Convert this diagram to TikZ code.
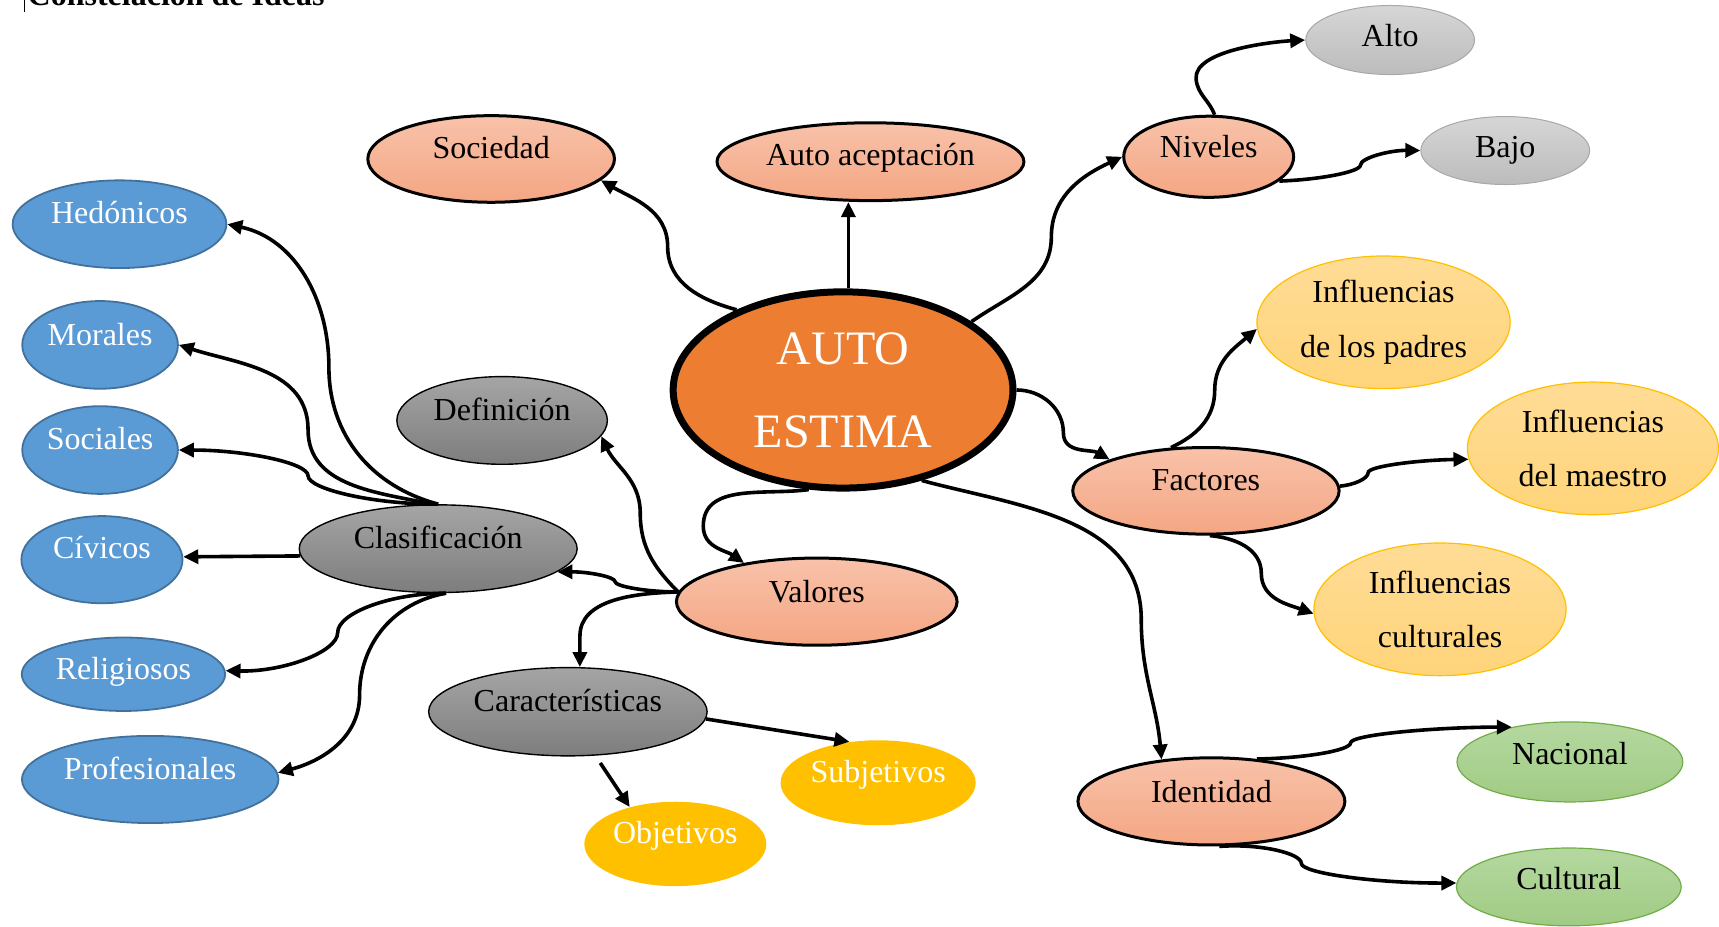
\documentclass[tikz,border=0pt]{standalone}
\usepackage{fontspec}
\setmainfont{Liberation Serif}
\usetikzlibrary{arrows.meta,shapes.geometric}
\definecolor{salT}{HTML}{F8C2AA}
\definecolor{salB}{HTML}{F4A683}
\definecolor{orangeC}{HTML}{ED7D31}
\definecolor{grayLT}{HTML}{D6D6D6}
\definecolor{grayLB}{HTML}{BCBCBC}
\definecolor{grayLD}{HTML}{A8A8A8}
\definecolor{grayDT}{HTML}{A5A5A5}
\definecolor{grayDB}{HTML}{7D7D7D}
\definecolor{blueF}{HTML}{5B9BD5}
\definecolor{blueD}{HTML}{41719C}
\definecolor{yelT}{HTML}{FFDC96}
\definecolor{yelB}{HTML}{FFD47A}
\definecolor{yelD}{HTML}{FFC000}
\definecolor{goldF}{HTML}{FFC000}
\definecolor{grnT}{HTML}{B5D8A0}
\definecolor{grnB}{HTML}{A0CB84}
\definecolor{grnD}{HTML}{70AD47}
\begin{document}
\begin{tikzpicture}[x=0.548151pt,y=-0.548151pt,
  conn/.style={line width=1.8pt,-{Triangle[length=7.5pt,width=7pt]}},
  base/.style={ellipse,inner sep=0pt,font=\fontsize{16}{27.4}\selectfont,align=center},
  sz/.style 2 args={minimum width={#1*0.548151pt},minimum height={#2*0.548151pt}},
  up/.style={text height=11.2pt,text depth=#1},
  sal/.style={base,draw=black,line width=1.5pt,top color=salT,bottom color=salB},
  gryL/.style={base,draw=grayLD,line width=0.5pt,top color=grayLT,bottom color=grayLB},
  gryD/.style={base,draw=black,line width=0.7pt,top color=grayDT,bottom color=grayDB},
  blu/.style={base,draw=blueD,line width=0.9pt,fill=blueF,text=white},
  yel/.style={base,draw=yelD,line width=0.6pt,top color=yelT,bottom color=yelB},
  gld/.style={base,fill=goldF,text=white},
  grn/.style={base,draw=grnD,line width=0.6pt,top color=grnT,bottom color=grnB},
  central/.style={ellipse,inner sep=0pt,draw=black,line width=3.5pt,fill=orangeC,text=white,
    font=\fontsize{24}{41.6}\selectfont,align=center}
]
\useasboundingbox (0,0) rectangle (1568,844.7);

% title
\node[anchor=base west,inner sep=0pt,font=\fontsize{16}{19}\selectfont\bfseries] (title) at (24.9,5.0) {Constelación de Ideas};
\draw[line width=0.5pt] (22.8,0) -- (22.8,10.7);

% nodes
\node[central,sz={310}{179}] (ae) at (769,355.7) {AUTO\\ESTIMA};
\node[sal,sz={225}{79},up=11.6pt] (soc) at (448,145) {Sociedad};
\node[sal,sz={280}{71},up=7.2pt] (aa) at (794,147.5) {Auto aceptación};
\node[sal,sz={155}{74},up=10.5pt] (niv) at (1102.5,143) {Niveles};
\node[gryL,sz={154}{63},up=5.0pt] (alto) at (1268,36.5) {Alto};
\node[gryL,sz={154}{62},up=4.5pt] (bajo) at (1373,137.3) {Bajo};
\node[yel,sz={231}{121}] (inf1) at (1262,294) {Influencias\\de los padres};
\node[yel,sz={229}{121}] (inf2) at (1453,409) {Influencias\\del maestro};
\node[sal,sz={243}{79},up=11.3pt] (fac) at (1100,447.7) {Factores};
\node[yel,sz={230}{121}] (inf3) at (1313.5,555.8) {Influencias\\culturales};
\node[blu,sz={195}{80},up=12pt] (hed) at (109,204.5) {Hedónicos};
\node[blu,sz={142}{80},up=10.5pt] (mor) at (91.3,314.6) {Morales};
\node[blu,sz={142}{80},up=11.5pt] (soc2) at (91.3,410.5) {Sociales};
\node[blu,sz={147}{79.5},up=11.9pt] (civ) at (93,510.5) {Cívicos};
\node[blu,sz={185.5}{67},up=5.7pt] (rel) at (112.6,615) {Religiosos};
\node[blu,sz={234}{79.5},up=11pt] (prof) at (137,711) {Profesionales};
\node[gryD,sz={192}{80},up=11.4pt] (def) at (458,383.5) {Definición};
\node[gryD,sz={253.5}{80},up=11.8pt] (cla) at (399.7,500.5) {Clasificación};
\node[sal,sz={256}{79.5},up=10pt] (val) at (745,548.8) {Valores};
\node[gryD,sz={254}{80.5},up=11.5pt] (car) at (518,649.2) {Características};
\node[gld,sz={178}{77.5},up=11pt] (sub) at (801,714) {Subjetivos};
\node[gld,sz={166}{77},up=12pt] (obj) at (616,769.8) {Objetivos};
\node[sal,sz={243.5}{79.5},up=10.5pt] (iden) at (1105,731) {Identidad};
\node[grn,sz={206}{73},up=8.5pt] (nac) at (1432,695) {Nacional};
\node[grn,sz={205}{71},up=8.5pt] (cult) at (1431,809) {Cultural};

% connectors
\draw[conn] (ae.143) to[out=165,in=-90] (609,225) to[out=90,in=-30] (soc.-11);
\draw[conn] (ae.87) -- (ae.87 |- aa.south);
\draw[conn] (ae.28) to[out=35,in=-90] (959,216) to[out=90,in=205] (niv.west);
\draw[conn] (niv.82) to[out=110,in=-85] (1091,72) to[out=95,in=183,looseness=0.65] (alto.west);
\draw[conn] (niv.-19) .. controls (1202,164) and (1241,157) .. (1241,150.5) .. controls (1241,144) and (1268,137) .. (bajo.west);
\draw[conn] (ae.east) to[out=0,in=90] (970,395) to[out=-90,in=150] (fac.162);
\draw[conn] (fac.129) to[out=25,in=-90] (1108,356) to[out=90,in=-140] (inf1.183);
\draw[conn] (fac.2.5) .. controls (1234.5,442.4) and (1248,436.8) .. (1248,431) .. controls (1248,425.3) and (1294,419.6) .. (inf2.185);
\draw[conn] (fac.-85) to[out=-5,in=90] (1150.5,523) to[out=-90,in=160] (inf3.182);
\draw[conn] (ae.-49) to[out=-15,in=90] (1041,565) to[out=-90,in=95] (iden.140);
\draw[conn] (iden.43) .. controls (1189,691.7) and (1232,684.6) .. (1232,677.5) .. controls (1232,670.4) and (1306,663.4) .. (nac.149);
\draw[conn] (iden.-80) .. controls (1149.5,769.3) and (1187,778.4) .. (1187,787.5) .. controls (1187,796.6) and (1256,805.7) .. (cult.178);
\draw[conn] (ae.-109) to[out=188,in=90] (641.5,480) to[out=-90,in=145] (val.152);
\draw[conn] (val.176) to[out=135,in=-90] (584,468) to[out=90,in=-65] (def.-9);
\draw[conn] (val.176) .. controls (591,540) and (561,535) .. (561,530.5) .. controls (561,526) and (536,521.5) .. (cla.-11);
\draw[conn] (val.176) .. controls (575,541) and (529,548) .. (529,580) -- (car.75);
\draw[conn] (car.-3) -- (sub.125);
\draw[conn,shorten <=4.4pt] (car.-58) -- (obj.141);
\draw[conn] (cla.north) to[out=165,in=-90] (300,335) to[out=90,in=-12] (hed.east);
\draw[conn] (cla.97) to[out=168,in=-90] (281,392) to[out=90,in=-18] (mor.east);
\draw[conn] (cla.north) .. controls (340,460) and (281,446) .. (281,434) .. controls (281,422) and (222.5,410.5) .. (soc2.east);
\draw[conn] (cla.183) -- (civ.2);
\draw[conn] (cla.-80) .. controls (357,541) and (308,559) .. (308,577) .. controls (308,595) and (257.5,613) .. (rel.2);
\draw[conn] (cla.-80) to[out=190,in=90] (328,634) to[out=-90,in=15] (prof.3);
\end{tikzpicture}
\end{document}
